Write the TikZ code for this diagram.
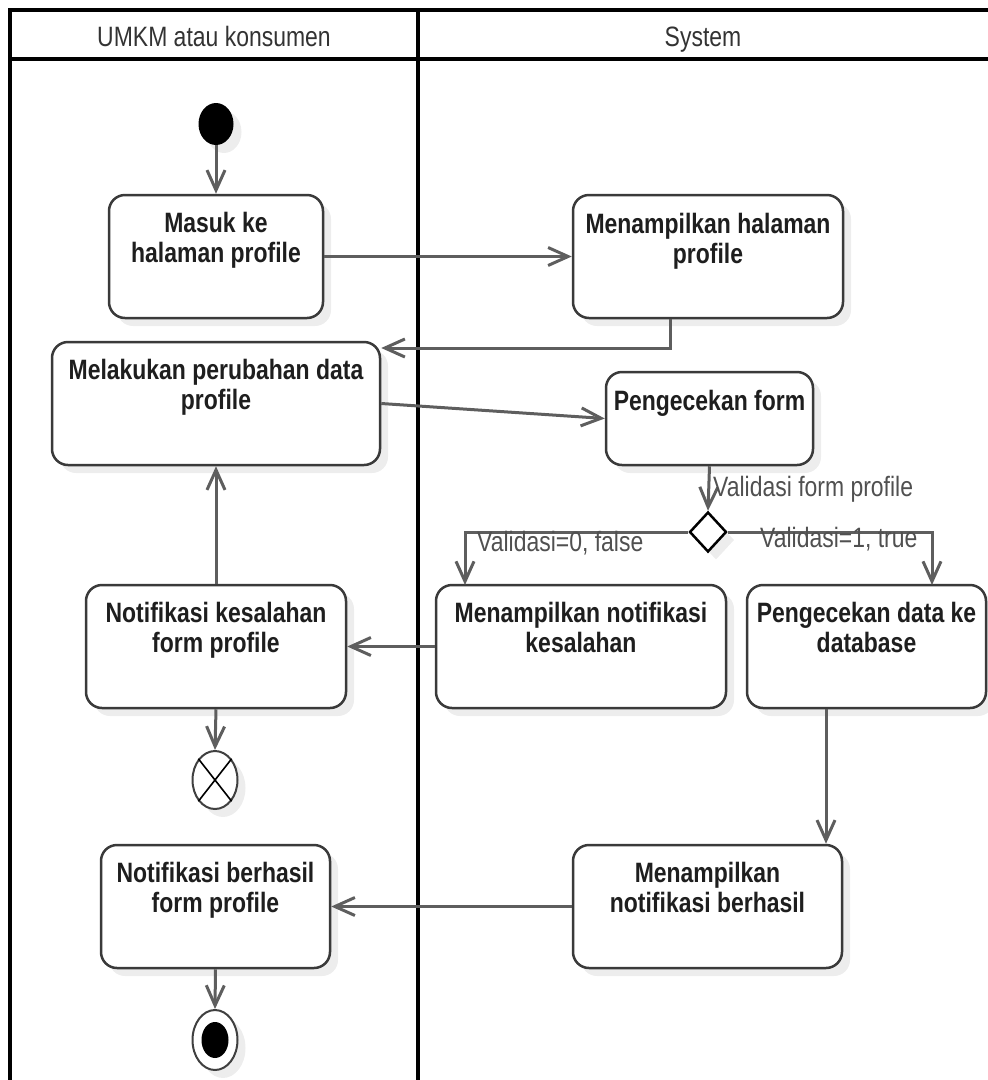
\documentclass[tikz,border=0pt]{standalone}
\usepackage{fontspec}
\setmainfont{Liberation Sans}
\newfontfamily\diafont[FakeStretch=0.82]{Liberation Sans}
\usetikzlibrary{arrows.meta,shapes.geometric,shadows}

\definecolor{boxc}{HTML}{3A3A3A}
\definecolor{linec}{HTML}{5E5E5E}
\definecolor{txtc}{HTML}{1E1E1E}
\definecolor{lblc}{HTML}{505050}

\tikzset{
  softshadow/.style={drop shadow={shadow xshift=8pt, shadow yshift=-8pt, fill=black, opacity=0.07}},
  act/.style={draw=boxc, line width=2.5pt, rounded corners=16pt, fill=white, inner sep=0pt, softshadow},
  acttext/.style={font=\diafont\bfseries\fontsize{28}{30}\selectfont, text=txtc, align=center, inner sep=0pt, anchor=north},
  lanetext/.style={font=\diafont\fontsize{28}{30}\selectfont, text=black!80, inner sep=0pt, anchor=base},
  guard/.style={font=\diafont\fontsize{28}{30}\selectfont, text=lblc, inner sep=0pt},
  flow/.style={draw=linec, line width=3pt, -{Straight Barb[length=20pt,width=18pt]}},
  lane/.style={draw=black, line width=4pt},
}

\begin{document}
\begin{tikzpicture}[x=1pt,y=-1pt]
\useasboundingbox (0,0) rectangle (988,1080);

% swimlane frame
\draw[lane] (10,1095) -- (10,10) -- (1000,10);
\draw[lane] (10,59) -- (1000,59);
\draw[lane] (418,10) -- (418,1095);
\node[lanetext] (laneA) at (214,46) {UMKM atau konsumen};
\node[lanetext] (laneB) at (703,46) {System};

% initial node
\node[ellipse, fill=black, minimum width=35pt, minimum height=42pt, inner sep=0pt, softshadow] (start) at (216,124) {};

% actions
\node[act, minimum width=214pt, minimum height=123pt] (b1) at (216,256.5) {};
\node[acttext] at ([yshift=-18pt]b1.north) {Masuk ke\\halaman profile};

\node[act, minimum width=270pt, minimum height=123pt] (b2) at (708,256.5) {};
\node[acttext] at ([yshift=-19pt]b2.north) {Menampilkan halaman\\profile};

\node[act, minimum width=328pt, minimum height=123pt] (b3) at (216,403.5) {};
\node[acttext] at ([yshift=-18pt]b3.north) {Melakukan perubahan data\\profile};

\node[act, minimum width=207pt, minimum height=93pt] (b4) at (709.5,418.5) {};
\node[acttext] at ([yshift=-19pt]b4.north) {Pengecekan form};

\node[diamond, draw=black, line width=2.5pt, fill=white, minimum width=37pt, minimum height=40pt, inner sep=0pt, softshadow] (dia) at (708,532) {};

\node[act, minimum width=290pt, minimum height=123pt] (b5) at (581,646.5) {};
\node[acttext] at ([yshift=-18pt]b5.north) {Menampilkan notifikasi\\kesalahan};

\node[act, minimum width=239pt, minimum height=123pt] (b6) at (866.5,646.5) {};
\node[acttext] at ([yshift=-18pt]b6.north) {Pengecekan data ke\\database};

\node[act, minimum width=260pt, minimum height=123pt] (b7) at (216,646.5) {};
\node[acttext] at ([yshift=-18pt]b7.north) {Notifikasi kesalahan\\form profile};

\node[act, minimum width=269pt, minimum height=123pt] (b8) at (707.5,906.5) {};
\node[acttext] at ([yshift=-18pt]b8.north) {Menampilkan\\notifikasi berhasil};

\node[act, minimum width=229pt, minimum height=123pt] (b9) at (215.5,906.5) {};
\node[acttext] at ([yshift=-18pt]b9.north) {Notifikasi berhasil\\form profile};

% flow final node
\node[ellipse, draw=black!75, line width=2pt, fill=white, minimum width=45pt, minimum height=58pt, inner sep=0pt, softshadow] (ff) at (215,780) {};
\draw[black, line width=1.6pt] (ff.north east) -- (ff.south west);
\draw[black, line width=1.6pt] (ff.north west) -- (ff.south east);

% activity final node
\node[ellipse, draw=black!75, line width=2pt, fill=white, minimum width=45pt, minimum height=60pt, inner sep=0pt, softshadow] (fin) at (215,1040) {};
\node[ellipse, fill=black, minimum width=27pt, minimum height=36pt, inner sep=0pt] (finc) at (fin.center) {};

% bend points of the routed flows
\coordinate (k1) at (670,348);
\coordinate (k2) at (465,585);
\coordinate (k3) at (932,585);
\coordinate (k4) at (826,0);

% control flows
\draw[flow] (start.south) -- (b1.north);
\draw[flow] (b1.east) -- (b2.west);
\draw[flow] (b2.south -| k1) |- (b3.east |- k1);
\draw[flow] (b3.east) -- (b4.west);
\draw[flow] (b4.south) -- (dia.north);
\node[guard, anchor=west] (g1) at (713,489) {Validasi form profile};
\draw[flow] (dia.west) -| (k2);
\node[guard, anchor=west] (g2) at (477,543) {Validasi=0, false};
\draw[flow] (dia.east) -| (k3);
\node[guard, anchor=west] (g3) at (760,539) {Validasi=1, true};
\draw[flow] (b5.west) -- (b7.east);
\draw[flow] (b7.north) -- (b3.south);
\draw[flow] (b7.south) -- (ff.north);
\draw[flow] (b6.south -| k4) -- (b8.north -| k4);
\draw[flow] (b8.west) -- (b9.east);
\draw[flow] (b9.south) -- (fin.north);
\end{tikzpicture}
\end{document}
